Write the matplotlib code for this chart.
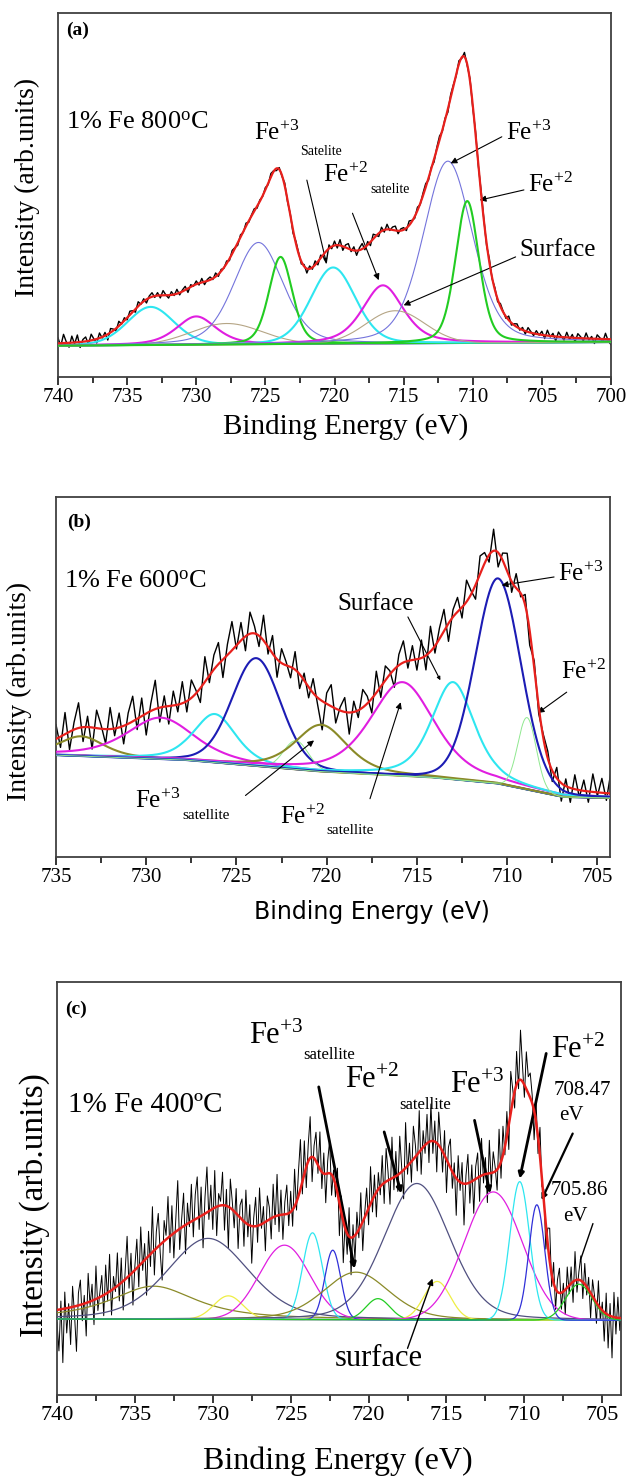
import numpy as np
import matplotlib.pyplot as plt
from matplotlib.ticker import MultipleLocator

plt.rcParams['font.family'] = ['Liberation Serif', 'DejaVu Serif']
plt.rcParams['mathtext.fontset'] = 'custom'
plt.rcParams['mathtext.rm'] = 'Liberation Serif'
plt.rcParams['mathtext.it'] = 'Liberation Serif:italic'
plt.rcParams['mathtext.bf'] = 'Liberation Serif:bold'

CYAN = '#2ee6f0'
MAGENTA = '#e01ee0'
GREEN = '#22cc22'
TAN = '#b5a585'
SLATE = '#7474dc'
OLIVE = '#8a8a28'
NAVY = '#1c1cb4'
LGREEN = '#8fe88f'
DSLATE = '#505080'
YELLOW = '#eeee44'
BLUE = '#3030d8'
RED = '#e8201c'

# ---------------- panel (a): 1% Fe 800 C ----------------
bg_a_x = [740.0, 700.0]
bg_a_y = [8.6, 9.6]
center_a = [733.3, 730.0, 727.8, 725.5, 723.9, 720.1, 716.5, 715.6, 711.8, 710.4]
height_a = [10.5, 7.8, 5.8, 28.0, 24.0, 21.0, 16.0, 9.0, 50.0, 39.0]
fwhm_a = [4.0, 3.4, 6.0, 4.2, 2.0, 3.8, 3.5, 5.0, 4.2, 2.0]
eta_a = [0.2, 0.5, 0.0, 0.3, 0.3, 0.2, 0.5, 0.0, 0.3, 0.3]
color_a = [CYAN, MAGENTA, TAN, SLATE, GREEN, CYAN, MAGENTA, TAN, SLATE, GREEN]
lw_a = [1.5, 1.5, 0.8, 0.8, 1.5, 1.5, 1.5, 0.8, 0.8, 1.5]
# residual of the measured spectrum around the fit, every 0.2 eV from 740 to 700
resid_a = [1.5, -0.8, 2.4, 0.3, -1.2, 1.8, -0.4, 2.0, -1.5, 0.6, 1.2, -0.9, 1.7, 0.2, -1.1, 1.4, -0.3, 0.9, -1.6, 1.1, 0.4, -0.7, 1.3, -0.2, 0.8,
           -0.6, 1.0, 0.3, -0.9, 1.2, -0.2, 0.7, -1.0, 0.5, 1.1, -0.4, 0.8, -0.7, 1.3, 0.1, -0.8, 0.9, -0.3, 1.2, -0.6, 0.4, 1.0, -1.1, 0.6, -0.2,
           0.9, -0.5, 1.1, -0.8, 0.4, 0.8, -0.3, 1.0, -0.6, 0.5, -0.2, 0.7, -0.5, 0.9, 0.2, -0.7, 0.6, -0.3, 0.8, -0.4, 0.3, 0.7, -0.5, 0.4, -0.2,
           0.6, -0.4, 0.9, 0.2, -0.6, 0.5, -0.3, 0.8, -0.5, 0.4, -0.9, 0.6, 0.3, -0.7, 0.5, -1.2, 0.8, -0.5, 1.1, -0.9, 0.8, -0.6, -3.2, 1.0, -0.6,
           1.2, -0.8, 1.6, -1.1, 0.7, 1.4, -0.5, 1.0, -1.3, 0.6, 1.5, -0.7, 0.9, -1.0, 1.3, 0.2, -0.9, 1.1, -0.6, 1.4, -0.3, 0.8, 1.2, -0.8, 0.5,
           0.6, -0.7, 1.2, 0.3, -0.5, 0.9, -0.3, 0.7, 1.0, -0.6, 0.4, -0.8, 0.6, 1.1, -0.4, 0.5, -0.9, 0.8, 0.3, -0.5, 0.9, -0.3, 1.2, -0.4, 0.6,
           -0.8, 0.7, -0.4, 0.9, 0.4, -0.6, 1.0, -0.3, 0.6, -0.7, 0.8, 0.2, -0.5, 1.1, -0.6, 0.4, 0.9, -0.4, 0.7, -0.8, 1.2, 0.3, -0.6, 0.9, -0.2,
           1.0, -0.9, 1.5, -0.3, 0.8, -1.2, 1.3, 0.2, -0.8, 1.4, -0.5, 0.9, -1.1, 1.2, 0.4, -0.7, 1.5, -0.4, 0.6, -1.3, 1.1, 0.3, -0.9, 1.6, -0.5,
           -1.5]

# ---------------- panel (b): 1% Fe 600 C ----------------
bg_b_x = [735.0, 728.0, 720.5, 714.3, 710.6, 708.0, 706.9, 704.3]
bg_b_y = [28.3, 27.0, 23.8, 22.2, 20.5, 17.8, 16.7, 16.4]
center_b = [733.6, 729.2, 726.2, 723.9, 721.7, 720.3, 715.8, 713.0, 710.5, 708.9]
height_b = [5.5, 11.5, 13.5, 30.0, 8.0, 13.0, 26.0, 27.0, 57.0, 20.0]
fwhm_b = [3.0, 4.5, 2.8, 3.2, 1.6, 3.4, 4.2, 2.8, 3.0, 1.2]
eta_b = [0.5, 0.6, 0.5, 0.15, 0.0, 0.5, 0.5, 0.5, 0.1, 0.0]
color_b = [OLIVE, MAGENTA, CYAN, NAVY, LGREEN, OLIVE, MAGENTA, CYAN, NAVY, LGREEN]
lw_b = [1.5, 1.5, 1.5, 1.5, 0.7, 1.5, 1.5, 1.5, 1.5, 0.7]
# residual every 0.25 eV from 735 to 704.25
resid_b = [4, -3, 6, -5, 2, 7, -4, 3, -6, 5, 1, -4, 6, -2, 4, -5, 3, 7, -3, 5, -6, 2, 8, -4, 3,
           -5, 4, -2, 6, -3, 5, 1, -4, 7, -2, 4, 6, -5, 3, 8, -1, 5, -4, 6, 2, -3, 7, -2, 5, -5, 4, 1, -3,
           5, -4, 2, -3, 4, -2, -8, 3, 6, -4, 1, 4, -6, 3, -2, 5, 2, -4, 6, -3, 4, 1, -5, 3, 6, -2, 4, -3,
           5, -4, 7, -2, 3, 6, -5, 2, 4, -3, 6, 1, -4, 5, 3, -2, 6, -4, 2, 5, -3, 4, -1, 3, -4, 2, -2, 1,
           2, -3, 3, -5, 2, -4, 4, -2, 3, -3, 5, -1, 4, -2, 6]

# ---------------- panel (c): 1% Fe 400 C ----------------
bg_c_x = [740.0, 703.8]
bg_c_y = [18.4, 18.1]
center_c = [733.8, 730.3, 729.0, 725.4, 723.6, 722.3, 720.8, 719.4, 716.9, 715.6, 712.0, 710.3, 709.2, 706.5]
height_c = [8.0, 19.6, 5.7, 18.0, 21.0, 16.8, 11.5, 5.1, 33.0, 9.3, 31.0, 33.5, 27.9, 8.7]
fwhm_c = [6.5, 6.2, 2.2, 3.8, 1.5, 1.2, 5.0, 1.8, 5.0, 2.0, 4.4, 1.5, 1.2, 2.0]
eta_c = [0.8, 0.3, 0.0, 0.0, 0.0, 0.0, 0.3, 0.0, 0.2, 0.0, 0.0, 0.0, 0.0, 0.0]
color_c = [OLIVE, DSLATE, YELLOW, MAGENTA, CYAN, BLUE, OLIVE, GREEN, DSLATE, YELLOW,
           MAGENTA, CYAN, BLUE, GREEN]
# residual every 0.125 eV from 740 to 703.75
resid_c = [-3, -10, 2, -13, 4, -6, 1, -9, 5, -2, -11, 3, 6, -4, 2, -8, 7, -1, 4, -6, 8, -3, 1, 5,
           -5, 7, -2, 9, -6, 3, -1, 8, -4, 6, -7, 2, 10, -3, 5, -8, 1, 7, -5, 9, -2, 4, -9, 6,
           -3, 11, -6, 4, 8, -2, -9, 5, 1, 10, -4, 7, -6, 3, 12, -5, 2, 8, -7, 5, -1, 9, -4, 6,
           10, -3, 7, -8, 4, 11, -2, 6, -5, 9, -7, 3, 1, 8, -6, 4, -10, 7, 2, -4, 6, -8, 3, 5,
           -6, 8, -3, 5, -9, 2, 7, -4, 9, -1, 4, -7, 6, 3, -5, 8, -2, 10, -4, 6, -6, 3, 7, -3,
           5, -4, 9, -2, 6, 12, -3, 8, -5, 4, 10, -6, 3, 7, -2, 9, -4, 5, -7, 3, 8, -5, 2, -3,
           6, -8, 4, -10, 2, -5, 7, -9, 3, -6, 5, -2, 8, -7, 1, 6, -4, 9, -3, 5, -6, 4, -2, 7,
           -5, 8, 2, -6, 10, -3, 6, -4, 9, 1, -7, 11, -2, 5, -5, 8, 3, -4, 10, -6, 4, -2, 7, -5,
           9, -3, 5, -7, 8, 2, -5, 6, -8, 4, 7, -4, 3, -9, 6, -2, 5, -10, 2, 7, -5, 4, -8, 3,
           6, -6, 9, -2, 4, -7, 8, -3, 5, 1, -5, 9, -4, 7, -2, 6, -6, 10, 3, -4, 8, -2, 12, 4,
           -3, 9, 4, 6, 2, -7, 5, -4, 7, -2, 3, -6, 4, 8, -3, 5, -5, 3, 6, -4, 2, -6, 5, -2,
           4, -5, 7, -3, 2, 6, -4, 5, -2, 3, -6, 4, 1, -5, 6, -3, 2, -7, 5, -8, 3, -10, 6, -4,
           5, -3, 2]


def pvoigt(x, center, height, fwhm, eta):
    u = (x - center) / fwhm
    return height * ((1 - eta) * np.exp(-4 * np.log(2) * u ** 2) + eta / (1 + 4 * u ** 2))


def model(x, bg_x, bg_y, centers, heights, fwhms, etas):
    bg = np.interp(x, bg_x[::-1], bg_y[::-1])
    comps = [pvoigt(x, c, h, w, e) for c, h, w, e in zip(centers, heights, fwhms, etas)]
    return bg, comps


def draw_panel(ax, xlim, step, resid, bg_x, bg_y, centers, heights, fwhms, etas,
               colors, widths, raw_lw, red_lw, bg_color):
    fine = np.linspace(xlim[0], xlim[1], 1500)
    bg, comps = model(fine, bg_x, bg_y, centers, heights, fwhms, etas)
    raw_x = xlim[0] - step * np.arange(len(resid))
    rbg, rcomps = model(raw_x, bg_x, bg_y, centers, heights, fwhms, etas)
    raw = rbg + np.sum(rcomps, axis=0) + np.array(resid, dtype=float)
    ax.plot(raw_x, raw, color='k', lw=raw_lw, zorder=2)
    if bg_color:
        ax.plot(fine, bg, color=bg_color, lw=1.0, zorder=3)
    for comp, col, lw in zip(comps, colors, widths):
        ax.plot(fine, bg + comp, color=col, lw=lw, zorder=3)
    ax.plot(fine, bg + np.sum(comps, axis=0), color=RED, lw=red_lw, zorder=4)
    ax.set_xlim(*xlim)
    ax.set_ylim(0, 100)
    ax.set_yticks([])
    ax.xaxis.set_major_locator(MultipleLocator(5))
    ax.xaxis.set_minor_locator(MultipleLocator(2.5))
    ax.tick_params(axis='x', which='major', direction='out', length=6, width=1.1, pad=2)
    ax.tick_params(axis='x', which='minor', direction='out', length=4, width=1.1)
    for sp in ax.spines.values():
        sp.set_linewidth(1.3)
        sp.set_color('#404040')


def arrow(ax, start, end, lw=0.8, head=True, ms=9):
    style = '-|>' if head else '-'
    ax.annotate('', xy=end, xytext=start,
                arrowprops=dict(arrowstyle=style, color='k', lw=lw, mutation_scale=ms,
                                shrinkA=0, shrinkB=0))


fig = plt.figure(figsize=(6.27, 14.82), dpi=100)

# ---------------- (a) ----------------
ax = fig.add_axes([0.0925, 0.7456, 0.882, 0.2456])
draw_panel(ax, (740, 700), 0.2, resid_a, bg_a_x, bg_a_y, center_a, height_a, fwhm_a, eta_a,
           color_a, lw_a, 1.0, 1.6, OLIVE)
ax.tick_params(axis='x', labelsize=15)
ax.set_xlabel('Binding Energy (eV)', fontsize=21)
ax.xaxis.set_label_coords(0.52, -0.1)
ax.set_ylabel('Intensity (arb.units)', fontsize=20)
ax.yaxis.set_label_coords(-0.033, 0.52)
ax.text(0.015, 0.975, '(a)', transform=ax.transAxes, fontsize=14, fontweight='bold', va='top')
ax.text(0.015, 0.70, '1% Fe 800$^{\\rm o}$C', transform=ax.transAxes, fontsize=19, va='center')
ax.text(725.8, 67.2, 'Fe$^{+3}$', fontsize=18, va='center')
ax.text(722.5, 62.0, 'Satelite', fontsize=10, va='center')
arrow(ax, (722.0, 54.1), (720.6, 31.5), lw=0.8, ms=5)
ax.text(720.8, 55.5, 'Fe$^{+2}$', fontsize=18, va='center')
ax.text(717.4, 51.4, 'satelite', fontsize=10, va='center')
arrow(ax, (718.7, 45.0), (716.8, 26.6))
ax.text(707.6, 67.2, 'Fe$^{+3}$', fontsize=18, va='center')
arrow(ax, (707.9, 66.0), (711.6, 58.7))
ax.text(706.0, 52.8, 'Fe$^{+2}$', fontsize=18, va='center')
arrow(ax, (706.3, 51.4), (709.5, 48.6))
ax.text(706.6, 34.9, 'Surface', fontsize=18, va='center')
arrow(ax, (706.9, 33.0), (715.0, 19.7))

# ---------------- (b) ----------------
ax = fig.add_axes([0.0893, 0.4217, 0.8836, 0.2429])
draw_panel(ax, (735, 704.3), 0.25, resid_b, bg_b_x, bg_b_y, center_b, height_b, fwhm_b, eta_b,
           color_b, lw_b, 1.0, 1.6, OLIVE)
ax.tick_params(axis='x', labelsize=15)
ax.set_xlabel('Binding Energy (eV)', fontsize=17, family=['DejaVu Sans'])
ax.xaxis.set_label_coords(0.57, -0.12)
ax.set_ylabel('Intensity (arb.units)', fontsize=20)
ax.yaxis.set_label_coords(-0.043, 0.46)
ax.text(0.02, 0.955, '(b)', transform=ax.transAxes, fontsize=14, fontweight='bold', va='top')
ax.text(0.015, 0.764, '1% Fe 600$^{\\rm o}$C', transform=ax.transAxes, fontsize=19, va='center')
ax.text(719.4, 70.4, 'Surface', fontsize=18, va='center')
arrow(ax, (715.5, 66.7), (713.7, 49.1), ms=5)
ax.text(707.2, 78.7, 'Fe$^{+3}$', fontsize=18, va='center')
arrow(ax, (707.4, 77.8), (710.3, 75.5))
ax.text(707.0, 51.4, 'Fe$^{+2}$', fontsize=18, va='center')
arrow(ax, (706.7, 45.8), (708.3, 40.0))
ax.text(730.6, 15.7, 'Fe$^{+3}$', fontsize=18, va='center')
ax.text(728.0, 11.6, 'satellite', fontsize=11, va='center')
arrow(ax, (724.5, 17.1), (720.7, 32.4))
ax.text(722.6, 11.1, 'Fe$^{+2}$', fontsize=18, va='center')
ax.text(720.0, 7.4, 'satellite', fontsize=11, va='center')
arrow(ax, (717.6, 16.2), (715.9, 43.0))

# ---------------- (c) ----------------
ax = fig.add_axes([0.0909, 0.0587, 0.8995, 0.2787])
draw_panel(ax, (740, 703.8), 0.125, resid_c, bg_c_x, bg_c_y, center_c, height_c, fwhm_c, eta_c,
           color_c, [0.9] * len(color_c), 0.7, 1.8, None)
ax.tick_params(axis='x', labelsize=16)
ax.set_xlabel('Binding Energy (eV)', fontsize=23)
ax.xaxis.set_label_coords(0.498, -0.125)
ax.set_ylabel('Intensity (arb.units)', fontsize=24)
ax.yaxis.set_label_coords(-0.012, 0.46)
ax.text(0.015, 0.955, '(c)', transform=ax.transAxes, fontsize=14, fontweight='bold', va='top')
ax.text(0.02, 0.702, '1% Fe 400ºC', transform=ax.transAxes, fontsize=21, va='center')
ax.text(727.7, 86.9, 'Fe$^{+3}$', fontsize=22, va='center')
ax.text(724.2, 82.3, 'satellite', fontsize=12, va='center')
arrow(ax, (723.2, 74.6), (720.9, 30.6), lw=2.0, ms=8)
ax.text(721.5, 76.2, 'Fe$^{+2}$', fontsize=22, va='center')
ax.text(718.0, 70.2, 'satellite', fontsize=12, va='center')
arrow(ax, (719.0, 63.7), (717.9, 48.8), lw=2.0, ms=8)
ax.text(714.8, 75.0, 'Fe$^{+3}$', fontsize=22, va='center')
arrow(ax, (713.2, 66.5), (712.2, 48.8), lw=2.0, ms=8)
ax.text(708.3, 83.5, 'Fe$^{+2}$', fontsize=22, va='center')
arrow(ax, (708.6, 82.7), (710.3, 52.4), lw=2.0, ms=8)
ax.text(708.1, 73.8, '708.47', fontsize=15, va='center')
ax.text(707.8, 67.7, 'eV', fontsize=15, va='center')
arrow(ax, (706.9, 63.3), (708.9, 47.2), lw=1.6, ms=8)
ax.text(708.3, 49.6, '705.86', fontsize=15, va='center')
ax.text(707.5, 43.1, 'eV', fontsize=15, va='center')
arrow(ax, (705.6, 41.5), (706.4, 32.7), lw=1.0, head=False)
ax.text(722.2, 8.9, 'surface', fontsize=22, va='center')
arrow(ax, (717.5, 11.3), (715.9, 28.2), lw=1.0)

fig.savefig('out.png', dpi=100)
